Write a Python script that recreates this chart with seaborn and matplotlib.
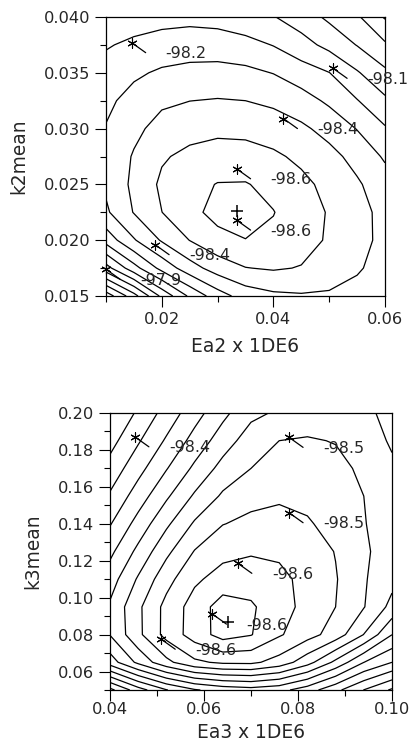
import numpy as np
import pandas as pd
import matplotlib
matplotlib.use('Agg')
import matplotlib.pyplot as plt
import seaborn as sns

# ---------- top panel: objective level on the (Ea2, k2mean) grid ----------
xt = [0.010, 0.015, 0.020, 0.025, 0.030, 0.035, 0.040, 0.045, 0.050, 0.055, 0.060]
yt = [0.0150, 0.0175, 0.0200, 0.0225, 0.0250, 0.0275, 0.0300, 0.0325, 0.0350, 0.0375, 0.0400]
z_top = np.array([
    [12.60, 10.39, 7.76, 5.82, 4.45, 3.55, 3.20, 3.10, 3.15, 3.35, 3.72],
    [8.40, 6.37, 4.68, 3.42, 2.54, 2.03, 1.90, 2.05, 2.40, 2.88, 3.41],
    [5.61, 4.09, 2.90, 1.98, 1.32, 1.03, 1.19, 1.61, 2.12, 2.67, 3.26],
    [4.16, 2.95, 2.01, 1.29, 0.68, 0.45, 0.97, 1.51, 2.08, 2.66, 3.29],
    [3.82, 2.78, 1.82, 1.31, 0.96, 0.94, 1.28, 1.75, 2.28, 2.87, 3.56],
    [3.85, 2.90, 2.11, 1.76, 1.57, 1.59, 1.83, 2.21, 2.70, 3.32, 4.13],
    [3.95, 3.27, 2.60, 2.35, 2.23, 2.28, 2.48, 2.82, 3.33, 4.04, 4.90],
    [4.20, 3.67, 3.20, 3.01, 2.94, 3.00, 3.20, 3.58, 4.18, 4.95, 5.81],
    [4.61, 4.16, 3.86, 3.72, 3.68, 3.77, 4.03, 4.53, 4.98, 5.90, 6.80],
    [5.09, 4.79, 4.58, 4.47, 4.48, 4.65, 5.04, 5.62, 6.29, 7.04, 7.85],
    [5.74, 5.50, 5.34, 5.28, 5.38, 5.69, 5.95, 6.50, 7.20, 7.85, 9.10],
])

# ---------- bottom panel: objective level on the (Ea3, k3mean) grid ----------
xb = [0.040, 0.046, 0.052, 0.058, 0.064, 0.070, 0.076, 0.082, 0.088, 0.094, 0.100]
yb = [0.050, 0.065, 0.080, 0.095, 0.110, 0.125, 0.140, 0.155, 0.170, 0.185, 0.200]
z_bot = np.array([
    [12.30, 10.45, 9.05, 8.10, 7.61, 7.40, 7.67, 8.53, 9.73, 11.02, 12.15],
    [7.50, 5.76, 4.27, 3.20, 2.82, 2.79, 3.39, 4.61, 6.25, 7.99, 9.00],
    [5.96, 4.23, 2.67, 1.54, 0.60, 0.95, 1.89, 2.61, 3.45, 5.02, 6.99],
    [5.85, 4.20, 2.69, 1.57, 0.55, 0.85, 1.63, 2.28, 3.00, 3.95, 5.30],
    [6.46, 4.88, 3.35, 2.18, 1.59, 1.50, 1.75, 2.29, 2.93, 3.90, 4.70],
    [7.24, 5.74, 4.24, 2.95, 2.30, 2.10, 2.17, 2.47, 3.04, 3.85, 4.47],
    [8.07, 6.63, 5.19, 3.87, 3.03, 2.77, 2.77, 2.92, 3.27, 3.95, 4.50],
    [8.87, 7.51, 6.16, 4.86, 3.85, 3.30, 3.10, 3.20, 3.45, 4.00, 4.60],
    [9.63, 8.34, 7.06, 5.80, 4.65, 4.00, 3.65, 3.55, 3.70, 4.20, 4.80],
    [10.36, 9.11, 7.87, 6.64, 5.49, 4.50, 4.00, 3.90, 4.05, 4.40, 5.15],
    [11.05, 9.83, 8.61, 7.40, 6.26, 5.25, 4.85, 4.60, 4.60, 4.85, 5.20],
])

# ---------- labelled sample points and minima ----------
top_star_x = [0.0146, 0.0507, 0.0418, 0.0334, 0.0334, 0.0188, 0.0100]
top_star_y = [0.0377, 0.0354, 0.0309, 0.0264, 0.0218, 0.0196, 0.0174]
top_star_lab = ['-98.2', '-98.1', '-98.4', '-98.6', '-98.6', '-98.4', '-97.9']
top_min = (0.0334, 0.0226)

bot_star_x = [0.0453, 0.0781, 0.0781, 0.0672, 0.0618, 0.0509]
bot_star_y = [0.1871, 0.1868, 0.1460, 0.1186, 0.0911, 0.0775]
bot_star_lab = ['-98.4', '-98.5', '-98.5', '-98.6', '-98.6', '-98.6']
bot_min = (0.0652, 0.0870)

levels = list(range(1, 17))

sns.set_style('ticks')
plt.rcParams['font.family'] = ['DejaVu Sans']

fig = plt.figure(figsize=(4.10, 7.53), dpi=100)
ax1 = fig.add_axes([106 / 410, 1 - 296 / 753, 279 / 410, 279 / 753])
ax2 = fig.add_axes([110 / 410, 1 - 690 / 753, 282 / 410, 277 / 753])


def draw(ax, x, y, Z, sx, sy, slab, pmin, xlim, ylim, xmaj, xmin_, ymaj, ymin_,
         xfmt, yfmt, xlabel, ylabel, xpad, xlabpad):
    ax.contour(x, y, Z, levels=levels, colors='black', linewidths=0.9)
    df = pd.DataFrame({'x': sx, 'y': sy})
    sns.scatterplot(data=df, x='x', y='y', marker=(6, 2, 0), s=45, color='black',
                    linewidth=0.8, ax=ax, zorder=5, clip_on=False)
    dm = pd.DataFrame({'x': [pmin[0]], 'y': [pmin[1]]})
    sns.scatterplot(data=dm, x='x', y='y', marker='+', s=80, color='black',
                    linewidth=1.1, ax=ax, zorder=5)
    for xx, yy, lab in zip(sx, sy, slab):
        ax.annotate('', xy=(xx, yy), xytext=(14, -10), textcoords='offset pixels',
                    arrowprops=dict(arrowstyle='-', lw=0.9, color='black',
                                    shrinkA=0, shrinkB=0), annotation_clip=False)
        ax.annotate(lab, xy=(xx, yy), xytext=(34, -11), textcoords='offset pixels',
                    ha='left', va='center', fontsize=11.4, annotation_clip=False)
    ax.set_xlim(*xlim)
    ax.set_ylim(*ylim)
    ax.set_xticks(xmaj)
    ax.set_xticks(xmin_, minor=True)
    ax.set_yticks(ymaj)
    ax.set_yticks(ymin_, minor=True)
    ax.set_xticklabels([xfmt % t for t in xmaj])
    ax.set_yticklabels([yfmt % t for t in ymaj])
    ax.tick_params(which='major', direction='out', length=7.9, width=0.8,
                   labelsize=11.7, pad=3.5, color='black')
    ax.tick_params(axis='x', which='major', pad=xpad)
    ax.tick_params(which='minor', direction='out', length=4.3, width=0.8, color='black')
    for sp in ax.spines.values():
        sp.set_visible(True)
        sp.set_linewidth(0.9)
        sp.set_color('black')
    ax.set_xlabel(xlabel, fontsize=13.4, labelpad=xlabpad)
    ax.set_ylabel(ylabel, fontsize=13.4, labelpad=11)


draw(ax1, xt, yt, z_top, top_star_x, top_star_y, top_star_lab, top_min,
     (0.01, 0.06), (0.015, 0.040), [0.02, 0.04, 0.06], [0.01, 0.03, 0.05],
     [0.015, 0.020, 0.025, 0.030, 0.035, 0.040],
     [0.0175, 0.0225, 0.0275, 0.0325, 0.0375],
     '%.2f', '%.3f', 'Ea2 x 1DE6', 'k2mean', 3.5, 7)
draw(ax2, xb, yb, z_bot, bot_star_x, bot_star_y, bot_star_lab, bot_min,
     (0.04, 0.10), (0.05, 0.20), [0.04, 0.06, 0.08, 0.10], [0.05, 0.07, 0.09],
     [0.06, 0.08, 0.10, 0.12, 0.14, 0.16, 0.18, 0.20],
     [0.05, 0.07, 0.09, 0.11, 0.13, 0.15, 0.17, 0.19],
     '%.2f', '%.2f', 'Ea3 x 1DE6', 'k3mean', 1.0, 4)

fig.savefig('out.png', dpi=100)
